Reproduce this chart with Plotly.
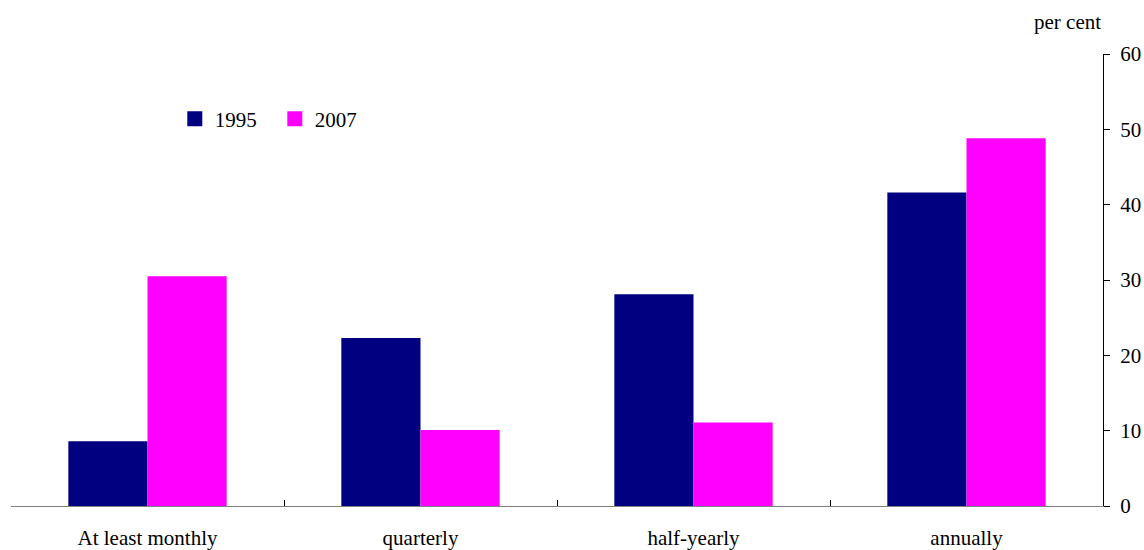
import plotly.graph_objects as go

categories = ["At least monthly", "quarterly", "half-yearly", "annually"]
series_names = ["1995", "2007"]
series_1995 = [8.6, 22.3, 28.1, 41.6]
series_2007 = [30.5, 10.1, 11.1, 48.8]
y_ticks = [0, 10, 20, 30, 40, 50, 60]
colors = ["#000080", "#FF00FF"]

FONT = "Liberation Serif"

fig = go.Figure()
for name, vals, col in zip(series_names, [series_1995, series_2007], colors):
    fig.add_trace(go.Bar(name=name, x=categories, y=vals, showlegend=False,
                         marker=dict(color=col, line=dict(width=0))))
# legend entries with larger square swatches
for name, col in zip(series_names, colors):
    fig.add_trace(go.Scatter(name=name, x=[None], y=[None], mode="markers",
                             marker=dict(symbol="square", size=15, color=col),
                             showlegend=True))

fig.update_layout(
    width=1144, height=550,
    margin=dict(l=11, r=41, t=54, b=44),
    paper_bgcolor="white", plot_bgcolor="white",
    barmode="group", bargap=0.42, bargroupgap=0,
    font=dict(family=FONT, size=21, color="black"),
    showlegend=True,
    legend=dict(orientation="h", x=0.150, y=0.856, xanchor="left", yanchor="middle",
                font=dict(family=FONT, size=21, color="black"),
                entrywidth=55, entrywidthmode="pixels",
                bgcolor="rgba(0,0,0,0)", itemclick=False),
    xaxis=dict(type="category", showgrid=False, showline=True, linecolor="#808080",
               linewidth=1, ticks="inside", tickson="boundaries", ticklen=6,
               tickcolor="black", tickfont=dict(family=FONT, size=21), zeroline=False,
               ticklabelstandoff=13, automargin=False),
    yaxis=dict(side="right", range=[0, 60], tickvals=y_ticks, showgrid=False,
               showline=True, linecolor="black", linewidth=1, ticks="outside",
               ticklen=6, tickcolor="black", zeroline=False, automargin=False,
               ticklabelstandoff=6, tickfont=dict(family=FONT, size=21)),
    annotations=[dict(text="per cent", xref="paper", yref="paper", x=1.0, y=1.071,
                      xanchor="right", yanchor="middle", showarrow=False,
                      font=dict(family=FONT, size=21, color="black"))],
)

fig.write_html("out.html")
